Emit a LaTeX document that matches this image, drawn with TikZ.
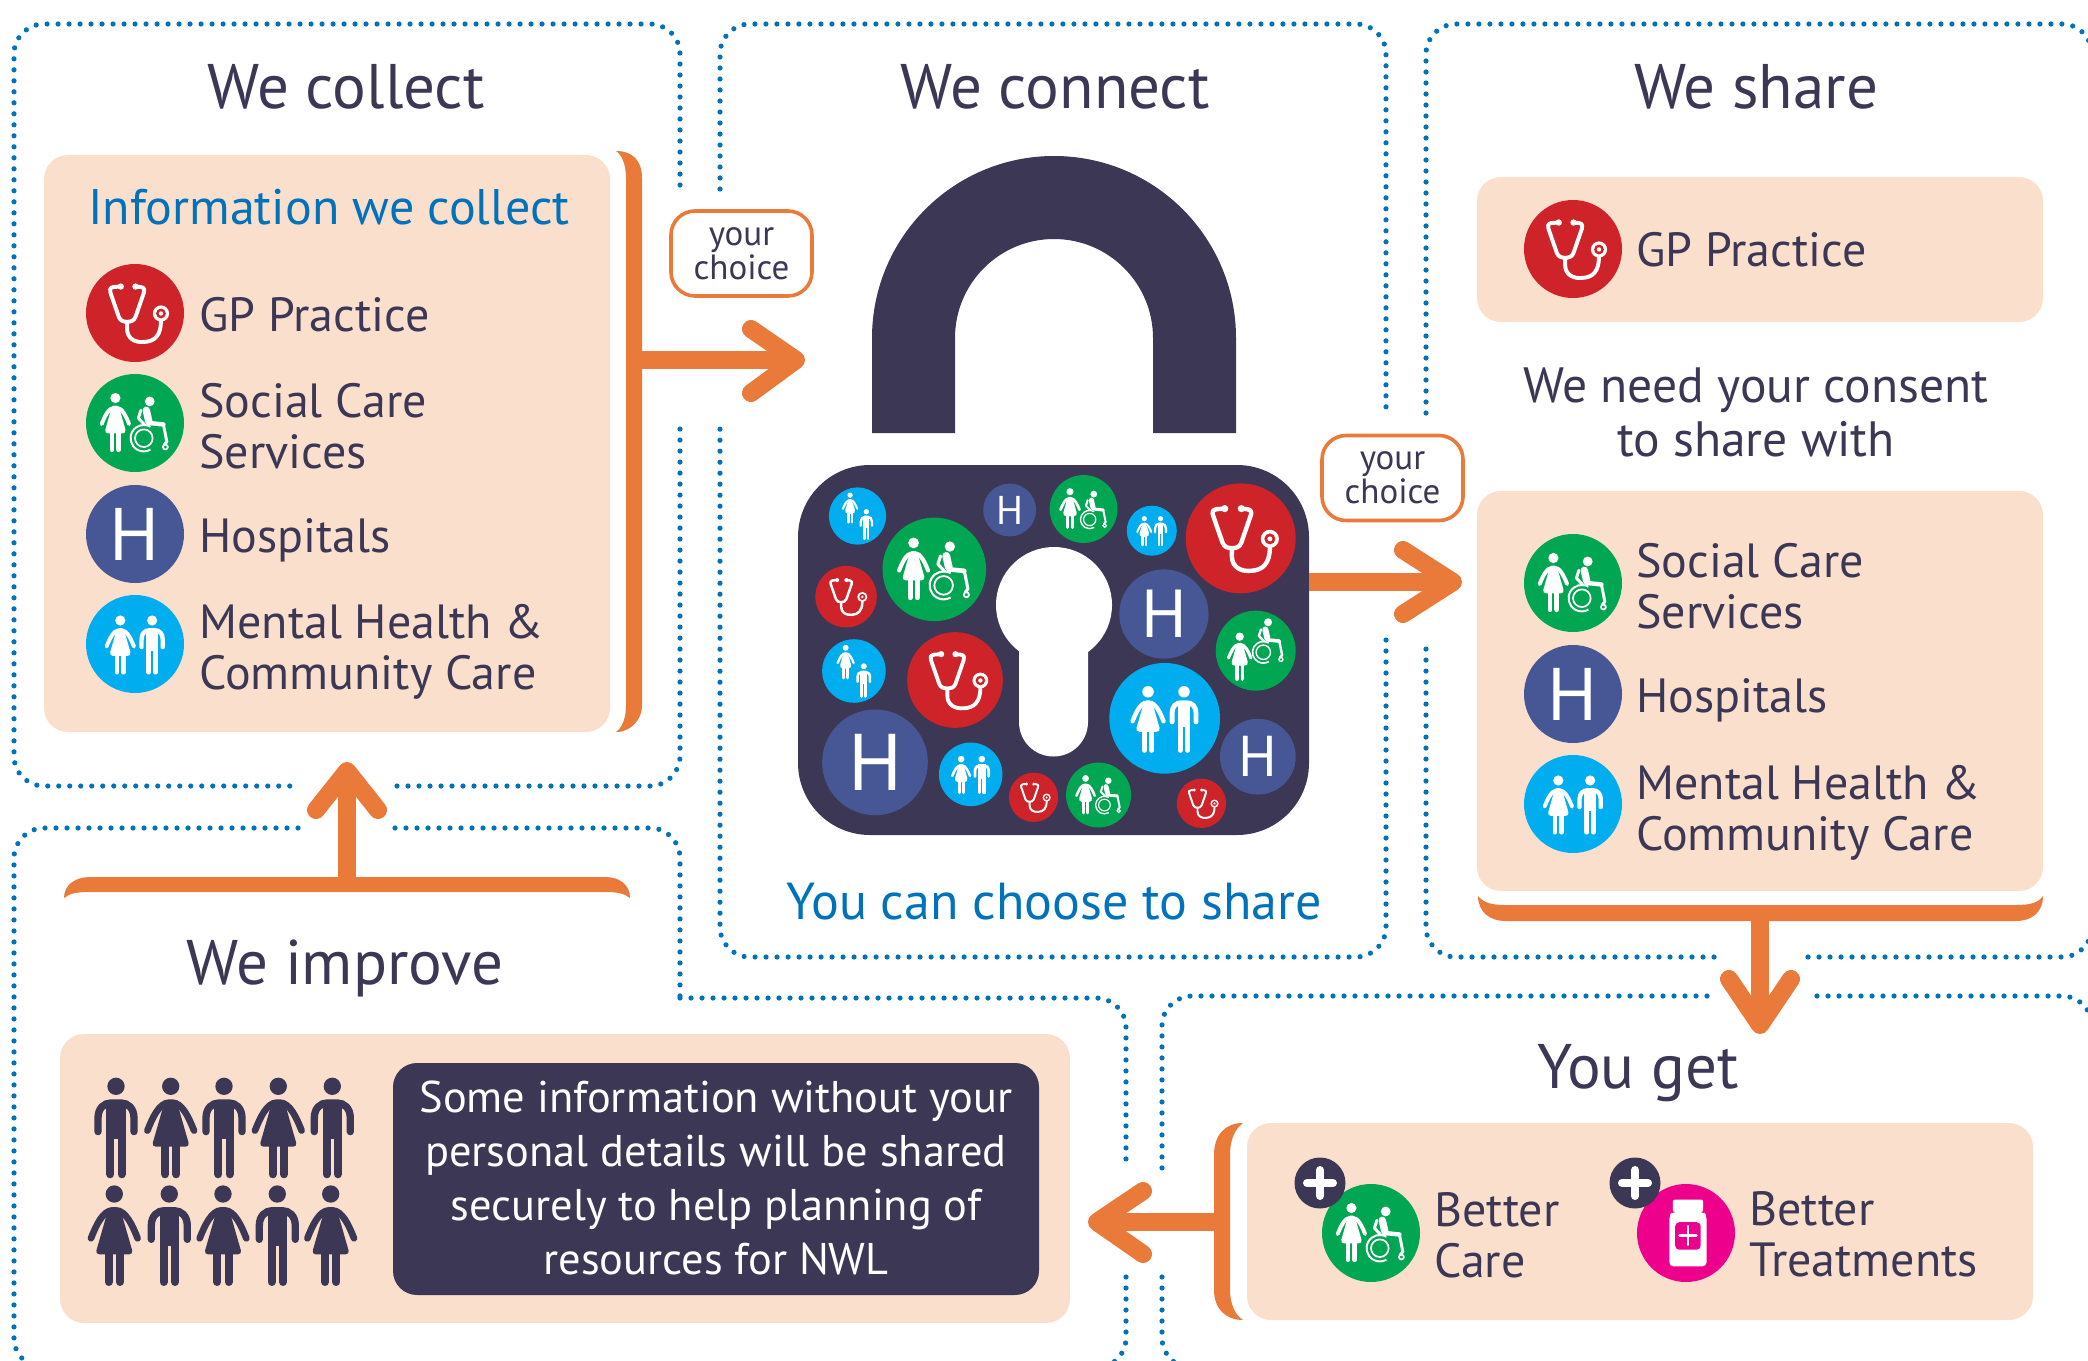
\documentclass[tikz,border=0pt]{standalone}
\usepackage{fontspec}
\setmainfont{PT Sans}
\definecolor{mydark}{HTML}{3C3754}
\definecolor{myorange}{HTML}{E97A3A}
\definecolor{mypeach}{HTML}{FADFCD}
\definecolor{mysky}{HTML}{00AEEF}
\definecolor{myred}{HTML}{CE2329}
\definecolor{mygreen}{HTML}{00A651}
\definecolor{myhosp}{HTML}{475795}
\definecolor{mymag}{HTML}{EC008C}
\definecolor{myblue}{HTML}{0072BC}
\newcounter{hn}
\def\curs{1}
\tikzset{
  ww/.style={line width=#1*\curs*0.5pt},
  dotline/.style={myblue,line width=2.6pt,line cap=round,dash pattern=on 0pt off 5.5pt,rounded corners=15pt},
  arrowline/.style={myorange,line width=9pt,line cap=round,line join=round},
  shaft/.style={myorange,line width=8.8pt},
  pbox/.style={fill=mypeach,rounded corners=12pt,inner sep=0pt,draw=none},
  dbox/.style={fill=mydark,rounded corners=12pt,inner sep=0pt,draw=none},
  choicebox/.style={fill=white,draw=myorange,line width=1.8pt,rounded corners=12pt,inner sep=0pt,align=center,text=mydark,font=\fontsize{17.5}{17}\selectfont},
  head/.style={anchor=base,text=mydark,font=\fontsize{31.5}{32}\selectfont,inner sep=0pt},
  label/.style={anchor=base west,text=mydark,align=left,font=\fontsize{24}{25.5}\selectfont,inner sep=0pt},
  para/.style={anchor=base,align=center,inner sep=0pt,font=\fontsize{24.8}{27}\selectfont},
  para2/.style={align=center,inner sep=0pt,font=\fontsize{22.2}{27}\selectfont},
  bluetxt/.style={anchor=base,text=myblue,inner sep=0pt,font=\fontsize{26}{27}\selectfont},
}
\newcommand{\PBox}[5]{\node[pbox,minimum width={(#4-#2)*0.5pt},minimum height={(#5-#3)*0.5pt}] (#1) at ({(#2+#4)/2},{(#3+#5)/2}) {};}
\newcommand{\FigMan}[4]{\begin{scope}[shift={(#1,#2)},scale=#3]\pgfmathsetmacro\curs{\curs*#3}
  \fill[#4] (0,0) circle (26);
  \draw[#4,ww=22,line cap=round] (-54,136) -- (-54,95) .. controls (-54,65) and (-35,50) .. (-15,50) -- (15,50) .. controls (35,50) and (54,65) .. (54,95) -- (54,136);
  \fill[#4] (-29,42) rectangle (29,157);
  \draw[#4,ww=24,line cap=round] (-17,150) -- (-17,264) (17,150) -- (17,264);
\end{scope}}
\newcommand{\FigWoman}[4]{\begin{scope}[shift={(#1,#2)},scale=#3]\pgfmathsetmacro\curs{\curs*#3}
  \fill[#4] (0,0) circle (26);
  \draw[#4,ww=20,line cap=round] (-70,133) .. controls (-55,95) and (-35,50) .. (-5,49) -- (5,49) .. controls (35,50) and (55,95) .. (70,133);
  \fill[#4,rounded corners=2pt] (-18,45) -- (18,45) -- (57,181) -- (-57,181) -- cycle;
  \draw[#4,ww=24,line cap=round] (-17,175) -- (-17,264) (17,175) -- (17,264);
\end{scope}}
\newcommand{\IconGP}[3]{\begin{scope}[shift={(#1,#2)},scale=#3/100]\pgfmathsetmacro\curs{#3/100}
  \fill[myred] (0,0) circle (100);
  \draw[white,ww=8,line cap=round,line join=round] (-30,-54) -- (-44,-53) .. controls (-52,-52) and (-52,-46) .. (-50,-41) -- (-33,8) .. controls (-30,16) and (-23,18) .. (-16,18) .. controls (-9,18) and (-2,16) .. (1,8) -- (18,-41) .. controls (20,-46) and (20,-52) .. (12,-53) -- (0,-54);
  \fill[white] (-29,-54) circle (6.5) (1,-54) circle (6.5);
  \draw[white,ww=8,line cap=round] (-16,18) -- (-16,33) .. controls (-16,52) and (0,61) .. (19,59) .. controls (40,58) and (53,46) .. (53,16);
  \fill[white] (53,1) circle (16.5);
  \fill[myred] (53,1) circle (10);
  \fill[white] (53,1) circle (4.5);
\end{scope}}
\newcommand{\Chair}{%
  \fill[white] (30,-44) circle (10);
  \draw[white,ww=15,line cap=round] (23,-26) -- (28,-4);
  \draw[white,ww=9,line join=round,line cap=round] (28,0) -- (58,3);
  \draw[white,ww=6,line join=round,line cap=round] (58,3) -- (65,38) -- (60,44);
  \draw[white,ww=6,line join=round,line cap=round] (12,-26) -- (7,-10) -- (20,4);
  \draw[white,ww=4] (18,31) ++(-60:27) arc (-60:-300:27);
  \draw[white,ww=3.5] (18,31) circle (18);
  \draw[white,ww=3.5] (62,49) circle (5);
}
\newcommand{\IconSocial}[3]{\begin{scope}[shift={(#1,#2)},scale=#3/100]\pgfmathsetmacro\curs{#3/100}
  \fill[mygreen] (0,0) circle (100);
  \FigWoman{-40}{-51}{0.40}{white}
  \Chair
\end{scope}}
\newcommand{\IconSocialAlt}[3]{\begin{scope}[shift={(#1,#2)},scale=#3/100]\pgfmathsetmacro\curs{#3/100}
  \fill[mygreen] (0,0) circle (100);
  \FigWoman{-40}{-35}{0.40}{white}
  \begin{scope}[shift={(1,-27)}]\Chair\end{scope}
\end{scope}}
\newcommand{\IconSky}[3]{\begin{scope}[shift={(#1,#2)},scale=#3/100]\pgfmathsetmacro\curs{#3/100}
  \fill[mysky] (0,0) circle (100);
  \FigWoman{-30}{-48}{0.40}{white}
  \FigMan{35}{-48}{0.40}{white}
\end{scope}}
\newcommand{\IconSkyAlt}[3]{\begin{scope}[shift={(#1,#2)},scale=#3/100]\pgfmathsetmacro\curs{#3/100}
  \fill[mysky] (0,0) circle (100);
  \FigWoman{-26}{-73}{0.36}{white}
  \FigMan{31}{-15}{0.36}{white}
\end{scope}}
\newcommand{\IconHosp}[3]{\stepcounter{hn}%
  \fill[myhosp] (#1,#2) circle (#3);
  \pgfmathsetmacro\hsize{#3*0.5*1.52}%
  \node[text=white,inner sep=0pt,font=\fontsize{\hsize}{\hsize}\selectfont] (hosp\thehn) at (#1,#2) {H};}
\newcommand{\IconBottle}[3]{\begin{scope}[shift={(#1,#2)},scale=#3/100]\pgfmathsetmacro\curs{#3/100}
  \fill[mymag] (0,0) circle (100);
  \fill[white,rounded corners=1pt] (-27,-68) rectangle (35,-43);
  \fill[white,rounded corners=2pt] (-28,-43) -- (-34,-36) -- (-34,68) -- (42,68) -- (42,-36) -- (36,-43) -- cycle;
  \fill[mymag,rounded corners=2pt] (-22,-22) rectangle (30,34);
  \draw[white,ww=6,line cap=round] (-13,5) -- (21,5) (4,-14) -- (4,24);
\end{scope}}
\newcommand{\PlusBadge}[2]{%
  \fill[mydark] (#1,#2) circle (25.5);
  \begin{scope}[shift={(#1,#2)}]\draw[white,line width=4pt,line cap=round] (-13,0) -- (13,0) (0,-13) -- (0,13);\end{scope}}
\newcommand{\LK}[4]{\pgfmathsetmacro\lkx{780+#2/2.8}\pgfmathsetmacro\lky{440+#3/3}\pgfmathsetmacro\lkr{#4/2.8}%
  \csname Icon#1\endcsname{\lkx}{\lky}{\lkr}}
\begin{document}
\begin{tikzpicture}[x=0.5pt,y=-0.5pt]
\useasboundingbox (0,0) rectangle (2088,1360);
\clip (0,0) rectangle (2088,1360);
% dotted frames
\draw[dotline] (680,185) -- (680,24) -- (14,24) -- (14,786) -- (298,786);
\draw[dotline] (397,786) -- (680,786) -- (680,423);
\draw[dotline] (720,189) -- (720,24) -- (1386,24) -- (1386,413);
\draw[dotline] (1386,640) -- (1386,957) -- (720,957) -- (720,423);
\draw[dotline] (1426,413) -- (1426,24) -- (2092,24) -- (2092,200);
\draw[dotline] (1714,957) -- (1426,957) -- (1426,640);
\draw[dotline] (1808,957) -- (2092,957) -- (2092,800);
\draw[dotline] (1707,996) -- (1162,996) -- (1162,1172);
\draw[dotline] (1162,1277) -- (1162,1368) -- (1300,1368);
\draw[dotline] (1817,996) -- (2092,996) -- (2092,1200);
\draw[dotline] (298,828) -- (14,828) -- (14,1368) -- (150,1368);
\draw[dotline] (395,828) -- (680,828) -- (680,998);
\draw[dotline] (680,998) -- (1126,998) -- (1126,1167);
\draw[dotline] (1126,1277) -- (1126,1368) -- (1000,1368);
% headings
\node[head] (tcollect) at (346,108) {We collect};
\node[head] (tconnect) at (1055,108) {We connect};
\node[head] (tshare) at (1756,108) {We share};
\node[head] (timprove) at (345,984) {We improve};
\node[head] (tget) at (1638,1088) {You get};
% We collect panel
\PBox{pcollect}{44}{155}{610}{732}
\fill[myorange] (616,151) .. controls (632,151) and (642,160) .. (642,178) -- (642,706) .. controls (642,718) and (632,732) .. (616,732) .. controls (622,728) and (626,718) .. (626,706) -- (626,178) .. controls (626,165) and (622,155) .. (616,151) -- cycle;
\node[bluetxt,anchor=base west,font=\fontsize{25}{26}\selectfont] (tinfo) at (88,224) {Information we collect};
\IconGP{135}{313}{49}
\node[label] (a1) at (199,331) {GP Practice};
\IconSocial{135}{423}{49}
\node[label] (a2) at (199,468) {Social Care\\Services};
\IconHosp{135}{534}{49}
\node[label] (a3) at (199,552) {Hospitals};
\IconSky{135}{644}{49}
\node[label] (a4) at (199,689) {Mental Health \&\\Community Care};
% arrow 1
\coordinate (b1) at (634,360);
\coordinate (t1) at (796,360);
\coordinate (t1a) at (751,329);
\coordinate (t1b) at (751,393);
\draw[shaft] (b1) -- (t1);
\draw[arrowline] (t1a) -- (t1) -- (t1b);
\node[choicebox,minimum width=70.5pt,minimum height=42.5pt] (c1) at (741.5,253.5) {your\\choice};
% lock
\fill[mydark] (872,433) -- (872,338) arc (180:360:182) -- (1236,433) -- (1153,433) -- (1153,338) arc (360:180:99) -- (955,433) -- cycle;
\fill[mydark,rounded corners=36pt] (798,465) rectangle (1309,835);
\fill[white] (1054,605) circle (58);
\fill[white] (1019,605) -- (1019,722) arc (180:0:34.5) -- (1088,605) -- cycle;
\LK{SkyAlt}{217}{228}{80}
\LK{Hosp}{643}{210}{74}
\LK{Social}{850}{207}{95}
\LK{Sky}{1041}{272}{70}
\LK{GP}{1290}{295}{154}
\LK{Social}{432}{388}{145}
\LK{GP}{185}{470}{86}
\LK{Hosp}{1075}{522}{125}
\LK{SocialAlt}{1332}{632}{112}
\LK{SkyAlt}{207}{693}{89}
\LK{GP}{490}{720}{134}
\LK{Sky}{1077}{835}{155}
\LK{Hosp}{266}{967}{148}
\LK{Hosp}{1338}{950}{106}
\LK{Sky}{534}{1003}{89}
\LK{GP}{710}{1072}{69}
\LK{Social}{892}{1065}{91}
\LK{GP}{1180}{1090}{69}
\node[bluetxt] (tchoose) at (1054,919) {You can choose to share};
% arrow 2
\coordinate (b2) at (1309,582);
\coordinate (t2) at (1453,582);
\coordinate (t2a) at (1403,550);
\coordinate (t2b) at (1403,614);
\draw[shaft] (b2) -- (t2);
\draw[arrowline] (t2a) -- (t2) -- (t2b);
\node[choicebox,minimum width=70.5pt,minimum height=42.5pt] (c2) at (1392.5,478) {your\\choice};
% We share
\PBox{ps1}{1477}{177}{2043}{322}
\IconGP{1573}{249}{49}
\node[label] (s1) at (1636,266) {GP Practice};
\node[para,text=mydark] (s2) at (1756,456) {We need your consent\\to share with};
\PBox{ps2}{1477}{491}{2043}{891}
\IconSocial{1573}{583}{49}
\node[label] (s3) at (1636,628) {Social Care\\Services};
\IconHosp{1573}{694}{49}
\node[label] (s4) at (1636,712) {Hospitals};
\IconSky{1573}{804}{49}
\node[label] (s5) at (1636,850) {Mental Health \&\\Community Care};
\fill[myorange] (1478,896) .. controls (1484,903) and (1492,905) .. (1505,905) -- (2016,905) .. controls (2030,905) and (2038,903) .. (2043,896) .. controls (2043,912) and (2032,921) .. (2016,921) -- (1505,921) .. controls (1490,921) and (1478,912) .. (1478,896) -- cycle;
\coordinate (b3) at (1760,912);
\coordinate (t3) at (1760,1025);
\coordinate (t3a) at (1729,979);
\coordinate (t3b) at (1791,979);
\draw[shaft] (b3) -- (t3);
\draw[arrowline] (t3a) -- (t3) -- (t3b);
% You get
\PBox{pget}{1247}{1123}{2033}{1320}
\fill[myorange] (1243,1123) .. controls (1225,1123) and (1214,1135) .. (1214,1155) -- (1214,1290) .. controls (1214,1308) and (1225,1320) .. (1243,1320) .. controls (1236,1316) and (1230,1305) .. (1230,1290) -- (1230,1155) .. controls (1230,1138) and (1236,1128) .. (1243,1123) -- cycle;
\IconSocial{1371}{1233}{49}
\PlusBadge{1320}{1183}
\node[label] (g1) at (1434,1277) {Better\\Care};
\IconBottle{1686}{1233}{49}
\PlusBadge{1635}{1183}
\node[label] (g2) at (1749,1276) {Better\\Treatments};
\coordinate (b4) at (1222,1222);
\coordinate (t4) at (1097,1222);
\coordinate (t4a) at (1143,1191);
\coordinate (t4b) at (1143,1254);
\draw[shaft] (b4) -- (t4);
\draw[arrowline] (t4a) -- (t4) -- (t4b);
% We improve
\PBox{pimp}{60}{1034}{1070}{1323}
\node[dbox,minimum width=323pt,minimum height=116pt] (i1) at (716,1179) {};
\node[para2,text=white] (i2) at (716,1177.5) {Some information without your\\personal details will be shared\\securely to help planning of\\resources for NWL};
\def\curs{1}
\FigMan{116}{1086.3}{0.3333}{mydark}
\FigWoman{170.7}{1086.3}{0.3333}{mydark}
\FigMan{224}{1086.3}{0.3333}{mydark}
\FigWoman{278.3}{1086.3}{0.3333}{mydark}
\FigMan{332.3}{1086.3}{0.3333}{mydark}
\FigWoman{114.3}{1194}{0.3333}{mydark}
\FigMan{169.3}{1194}{0.3333}{mydark}
\FigWoman{223}{1194}{0.3333}{mydark}
\FigMan{277.3}{1194}{0.3333}{mydark}
\FigWoman{330.7}{1194}{0.3333}{mydark}
\fill[myorange] (64,898) .. controls (64,885) and (75,877) .. (90,877) -- (605,877) .. controls (620,877) and (630,885) .. (630,898) .. controls (624,893) and (616,892) .. (605,892) -- (90,892) .. controls (78,892) and (70,893) .. (64,898) -- cycle;
\coordinate (b5) at (347,884);
\coordinate (t5) at (347,771);
\coordinate (t5a) at (316,810);
\coordinate (t5b) at (378,810);
\draw[shaft] (b5) -- (t5);
\draw[arrowline] (t5a) -- (t5) -- (t5b);
\end{tikzpicture}
\end{document}
